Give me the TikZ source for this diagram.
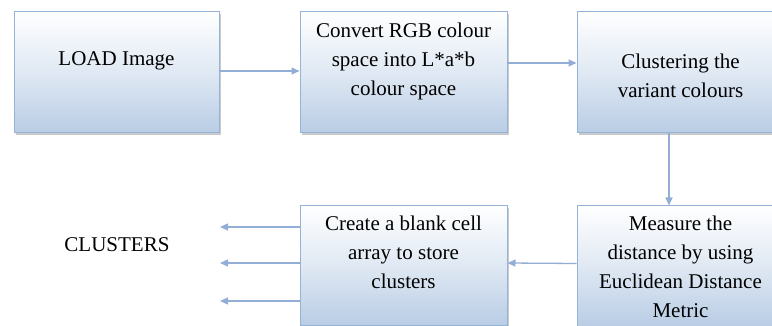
\documentclass[tikz,border=0pt]{standalone}
\usepackage{fontspec}
\setmainfont{Liberation Serif}
\usetikzlibrary{arrows.meta, positioning, calc, shadows}
\definecolor{boxline}{HTML}{95B3D7}
\definecolor{boxfill}{HTML}{B9CDE5}
\definecolor{arrline}{HTML}{93AED6}

\begin{document}
\begin{tikzpicture}[
    x=1pt, y=-1pt,
    every node/.style={font=\fontsize{21}{29}\selectfont},
    stage/.style={draw=boxline, line width=1pt, top color=white,
                  bottom color=boxfill, middle color=boxfill!45,
                  minimum height=121pt, inner sep=0pt,
                  drop shadow={shadow xshift=2pt, shadow yshift=-2pt,
                               fill=black!35, opacity=0.6}},
    txt/.style={align=center, inner sep=0pt},
    arr/.style={-{Triangle[length=8pt, width=7pt]}, draw=arrline, line width=1.3pt}
]
    \useasboundingbox (0,0) rectangle (772,326);
    \clip (0,0) rectangle (772,326);

    % boxes of the first row
    \node[stage, minimum width=205pt] (b1) at (116.5,72.5) {};
    \node[stage, minimum width=207pt] (b2) at (403.5,72.5) {};
    \node[stage, minimum width=207pt] (b3) at (680.5,72.5) {};
    % boxes of the second row
    \node[stage, minimum width=207pt, minimum height=120pt] (b4) at (680.5,266) {};
    \node[stage, minimum width=207pt, minimum height=119pt] (b5) at (403.5,265.5) {};

    \node[txt, yshift=11.5pt] (t1) at (b1) {LOAD Image};
    \node[txt, yshift=11.5pt] (t2) at (b2) {Convert RGB colour\\ space into L*a*b\\ colour space};
    \node[txt, yshift=-3pt] (t3) at (b3) {Clustering the\\ variant colours};
    \node[txt, yshift=-1pt] (t4) at (b4) {Measure the\\ distance by using\\ Euclidean Distance\\ Metric};
    \node[txt, yshift=13.5pt] (t5) at (b5) {Create a blank cell\\ array to store\\ clusters};
    \node[txt] (out) at (117,245) {CLUSTERS};

    \draw[arr] ([yshift=1.5pt]b1.east) -- ([yshift=1.5pt]b2.west);
    \draw[arr] ([yshift=9.5pt]b2.east) -- ([yshift=9.5pt]b3.west);
    \draw[arr] ([xshift=-11.5pt]b3.south) -- ([xshift=-11.5pt]b4.north);
    \draw[arr] ([yshift=2.5pt]b4.west) -- ([yshift=2.5pt]b5.east);

    % three outputs
    \coordinate (o1) at (220,227);
    \coordinate (o2) at (220,263);
    \coordinate (o3) at (220,301);
    \foreach \o in {o1,o2,o3}
        \draw[arr] (b5.west |- \o) -- (\o);
\end{tikzpicture}
\end{document}
